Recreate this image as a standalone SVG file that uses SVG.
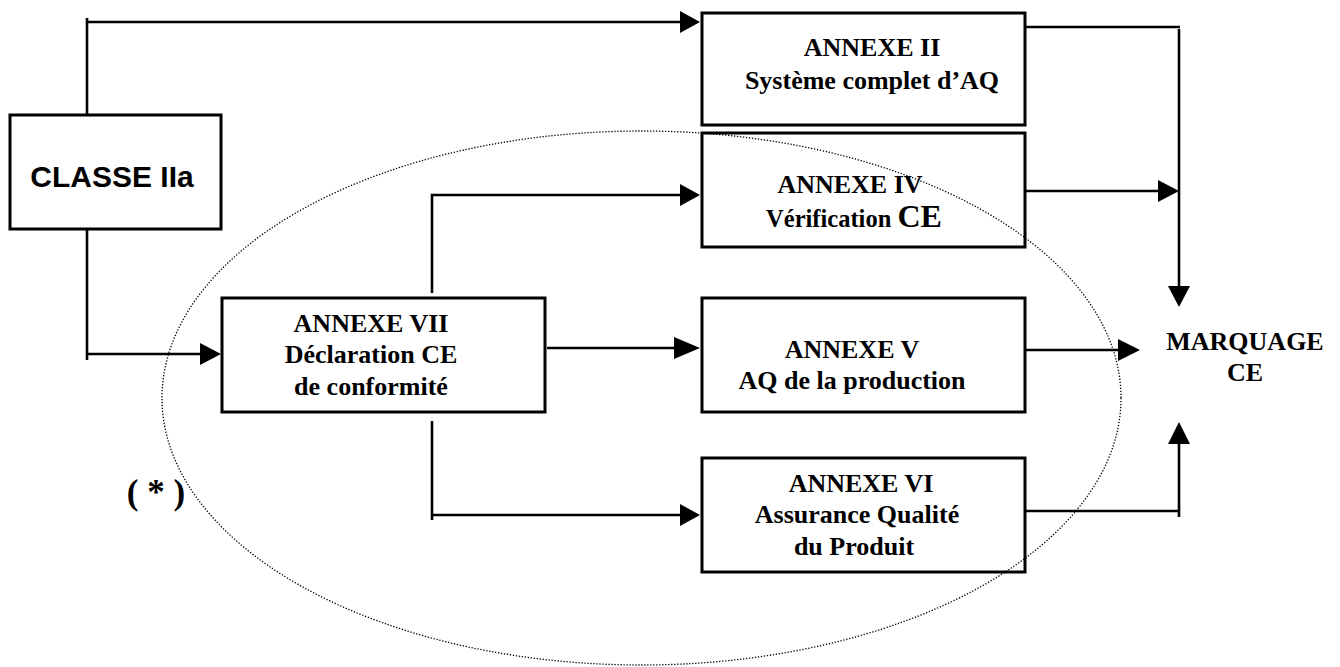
<svg xmlns="http://www.w3.org/2000/svg" width="1340" height="667" viewBox="0 0 1340 667">
<style>
.box{fill:#fff;stroke:#000;stroke-width:3}
.ln{fill:none;stroke:#000;stroke-width:2.6}
.ah{fill:#000;stroke:none}
.t{font-family:"Liberation Serif","Times New Roman",serif;font-weight:bold;font-size:26px;fill:#000;text-anchor:middle}
.s{font-family:"Liberation Sans",Arial,sans-serif;font-weight:bold;font-size:30px;fill:#000;text-anchor:middle}
.ell{fill:none;stroke:#000;stroke-width:1.3;stroke-dasharray:1.3 1.7}
</style>
<rect width="1340" height="667" fill="#fff"/>

<g id="connectors">
  <path class="ln" d="M87,128 V18 M87,22 H682"/>
  <polygon class="ah" points="680,11 700,22 680,33"/>
  <path class="ln" d="M87,228 V360 M87,354 H202"/>
  <polygon class="ah" points="200,343 221,354 200,365"/>
  <path class="ln" d="M432,293 V195 H682"/>
  <polygon class="ah" points="680,184 700,195 680,206"/>
  <path class="ln" d="M547,348 H676"/>
  <polygon class="ah" points="674,337 700,348 674,359"/>
  <path class="ln" d="M432,421 V520 M432,515 H682"/>
  <polygon class="ah" points="680,504 700,515 680,526"/>
  <path class="ln" d="M1025,27 H1180 M1179,29 V288"/>
  <polygon class="ah" points="1168,286 1179,307 1190,286"/>
  <path class="ln" d="M1025,191 H1160"/>
  <polygon class="ah" points="1158,180 1179,191 1158,202"/>
  <path class="ln" d="M1025,350 H1120"/>
  <polygon class="ah" points="1118,339 1140,350 1118,361"/>
  <path class="ln" d="M1025,511 H1180 M1179,517 V442"/>
  <polygon class="ah" points="1168,444 1179,422 1190,444"/>
</g>

<g id="classe">
  <rect class="box" x="10" y="115" width="211" height="114"/>
  <text class="s" x="112" y="187">CLASSE IIa</text>
</g>

<g id="annexe2">
  <rect class="box" x="702" y="13" width="323" height="112"/>
  <text class="t" x="872" y="56">ANNEXE II</text>
  <text class="t" x="872" y="89">Système complet d’AQ</text>
</g>

<g id="annexe4">
  <rect class="box" x="702" y="133" width="323" height="114"/>
  <text class="t" x="850" y="193">ANNEXE IV</text>
  <text class="t" x="854" y="227" style="font-size:24.5px">Vérification <tspan style="font-size:32px">CE</tspan></text>
</g>

<g id="annexe7">
  <rect class="box" x="222" y="298" width="323" height="114"/>
  <text class="t" x="371" y="332">ANNEXE VII</text>
  <text class="t" x="371" y="363">Déclaration CE</text>
  <text class="t" x="371" y="395">de conformité</text>
</g>

<g id="annexe5">
  <rect class="box" x="702" y="298" width="323" height="114"/>
  <text class="t" x="852" y="358">ANNEXE V</text>
  <text class="t" x="852" y="389">AQ de la production</text>
</g>

<g id="annexe6">
  <rect class="box" x="702" y="458" width="323" height="114"/>
  <text class="t" x="861" y="492">ANNEXE VI</text>
  <text class="t" x="857" y="523">Assurance Qualité</text>
  <text class="t" x="854" y="555">du Produit</text>
</g>

<g id="marquage">
  <text class="t" x="1245" y="350">MARQUAGE</text>
  <text class="t" x="1245" y="381">CE</text>
</g>

<g id="ellipse">
  <ellipse class="ell" cx="641.5" cy="398" rx="479.5" ry="267"/>
  <text class="t" x="156" y="504" style="font-size:35px">( * )</text>
</g>
</svg>
